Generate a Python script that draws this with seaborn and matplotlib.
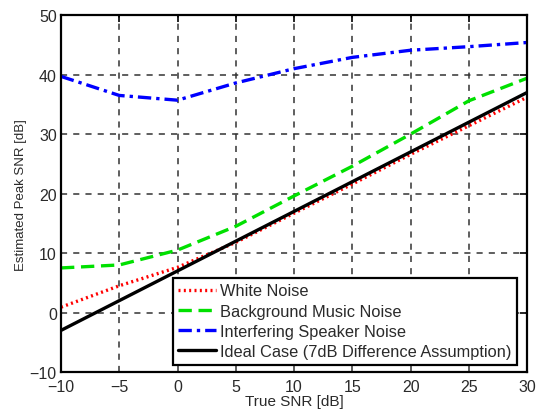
import numpy as np
import matplotlib
matplotlib.use("Agg")
import matplotlib.pyplot as plt
import pandas as pd
import seaborn as sns

true_snr = [-10, -5, 0, 5, 10, 15, 20, 25, 30]
white_noise = [0.9, 4.5, 7.6, 11.8, 16.7, 21.6, 26.6, 31.4, 36.2]
music_noise = [7.5, 8.0, 10.5, 14.5, 19.6, 24.6, 30.0, 35.6, 39.4]
speaker_noise = [39.7, 36.5, 35.7, 38.6, 41.0, 42.9, 44.1, 44.7, 45.4]
ideal_case = [-3, 2, 7, 12, 17, 22, 27, 32, 37]

labels = ["White Noise", "Background Music Noise", "Interfering Speaker Noise",
          "Ideal Case (7dB Difference Assumption)"]
series = [white_noise, music_noise, speaker_noise, ideal_case]

df = pd.DataFrame({
    "snr": np.tile(true_snr, len(series)),
    "est": np.concatenate(series),
    "case": np.repeat(labels, len(true_snr)),
})

sns.set_style("white")
plt.rcParams["font.family"] = ["Liberation Sans", "DejaVu Sans"]

fig = plt.figure(figsize=(5.37, 4.14), dpi=100)
ax = fig.add_axes([0.1136, 0.099, 0.868, 0.862])

palette = {labels[0]: "#ff0000", labels[1]: "#00e000", labels[2]: "#0000ff", labels[3]: "#000000"}
dashes = {labels[0]: (0.6, 1.0), labels[1]: (4, 2), labels[2]: (4, 1.5, 1, 1.5), labels[3]: ""}
sns.lineplot(data=df, x="snr", y="est", hue="case", style="case", palette=palette,
             dashes=dashes, linewidth=2.4, ax=ax, legend=True)

ax.set_xlim(-10, 30)
ax.set_ylim(-10, 50)
ax.set_xticks(range(-10, 31, 5))
ax.set_yticks(range(-10, 51, 10))
ax.grid(True, color="#333333", linestyle=(0, (4, 4)), linewidth=1.1)
for s in ax.spines.values():
    s.set_color("black")
    s.set_linewidth(1.6)
ax.tick_params(direction="in", top=True, right=True, length=5, width=1.2,
               labelsize=11.5, colors="black", labelcolor="#2a2a2a")
ax.tick_params(axis="x", pad=5)
ax.tick_params(axis="y", pad=3)
ax.set_xlabel("True SNR [dB]", fontsize=11, color="#2a2a2a", labelpad=0)
ax.set_ylabel("Estimated Peak SNR [dB]", fontsize=9.5, color="#2a2a2a", labelpad=2)

handles, hl = ax.get_legend_handles_labels()
leg = ax.legend(handles, hl, loc="lower right", bbox_to_anchor=(0.979, 0.02),
                fontsize=11.8, frameon=True, fancybox=False, handlelength=2.3,
                handletextpad=0.25, labelspacing=0.32, borderpad=0.35,
                borderaxespad=0.0, labelcolor="#2a2a2a")
leg.get_frame().set_edgecolor("black")
leg.get_frame().set_linewidth(1.6)
leg.get_frame().set_alpha(1)

plt.savefig("out.png", dpi=100)
